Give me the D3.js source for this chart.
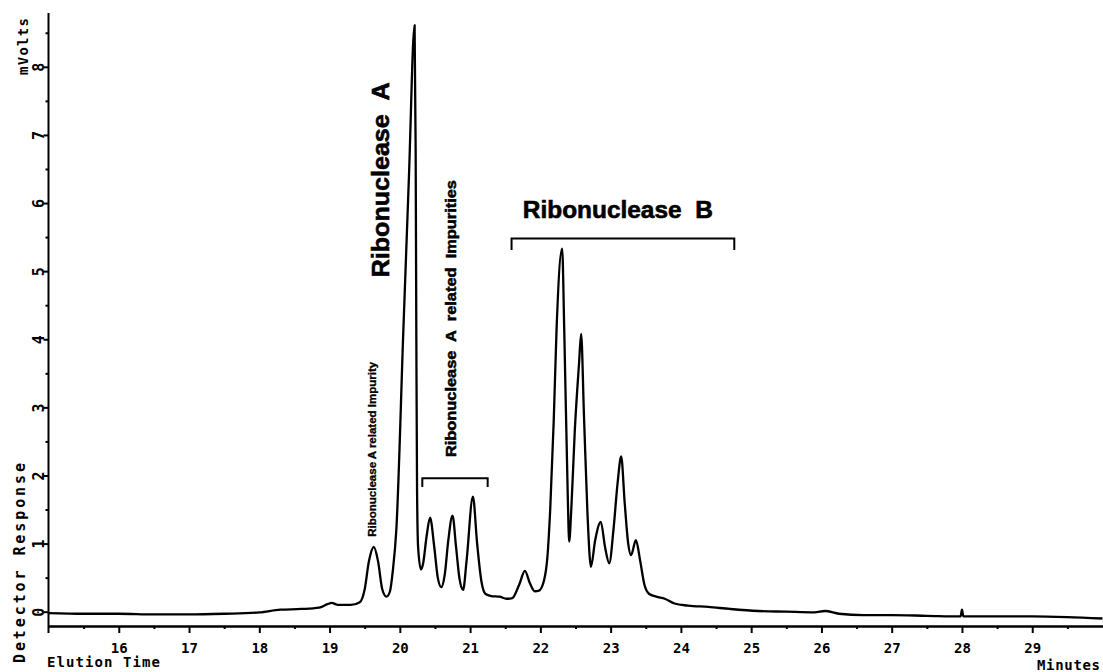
<!DOCTYPE html>
<html>
<head>
<meta charset="utf-8">
<script src="https://cdn.jsdelivr.net/npm/d3@7"></script>
<style>
  html, body { margin: 0; padding: 0; background: #fff; }
  svg { display: block; }
  .mono { font-family: "DejaVu Sans Mono", "Liberation Mono", monospace; font-weight: bold; fill: #000; }
  .ann { font-family: "Liberation Sans", Arial, Helvetica, sans-serif; font-weight: bold; fill: #000; stroke: #000; }
</style>
</head>
<body>
<svg id="chart" width="1103" height="672"></svg>
<script>
// ---- Data ----
const times = [15.00,15.50,16.00,16.50,17.00,17.50,18.00,18.30,18.60,18.85,18.97,19.03,19.12,19.30,19.43,
  19.50,19.56,19.63,19.69,19.75,19.81,19.86,19.90,19.95,20.05,20.13,20.21,20.225,20.235,20.245,20.26,
  20.30,20.33,20.38,20.43,20.49,20.54,20.59,20.64,20.69,20.75,20.80,20.85,20.90,20.95,21.04,21.10,21.16,
  21.22,21.30,21.42,21.52,21.60,21.70,21.78,21.85,21.92,21.98,22.05,22.10,22.14,22.19,22.23,22.31,22.34,
  22.39,22.41,22.44,22.49,22.55,22.58,22.62,22.67,22.72,22.78,22.86,22.92,22.98,23.04,23.10,23.15,23.20,
  23.25,23.29,23.36,23.42,23.48,23.55,23.65,23.77,23.91,24.10,24.39,24.70,25.10,25.50,25.90,26.05,26.25,
  26.60,27.00,27.50,27.98,28.00,28.02,28.50,29.00,29.50,30.00];
const mvolts = [-0.02,-0.03,-0.03,-0.04,-0.04,-0.03,-0.01,0.03,0.04,0.06,0.11,0.13,0.10,0.10,0.14,
  0.33,0.74,0.95,0.74,0.33,0.22,0.30,0.60,1.20,4.13,6.40,8.61,6.80,4.00,1.80,0.95,
  0.62,0.70,1.10,1.38,0.95,0.50,0.36,0.55,1.05,1.41,0.95,0.48,0.32,0.75,1.69,1.00,0.45,
  0.26,0.23,0.22,0.19,0.20,0.40,0.60,0.42,0.30,0.31,0.45,0.80,1.50,2.80,4.13,5.33,4.13,
  1.69,1.03,1.50,2.66,3.64,4.08,2.90,1.45,0.66,1.05,1.32,0.95,0.71,1.20,1.90,2.28,1.60,
  1.00,0.83,1.05,0.75,0.40,0.26,0.22,0.19,0.12,0.09,0.07,0.04,0.01,0.00,-0.01,0.01,-0.03,
  -0.05,-0.05,-0.06,-0.07,0.03,-0.07,-0.07,-0.07,-0.08,-0.10];

const xMajorTicks = [16,17,18,19,20,21,22,23,24,25,26,27,28,29];
const yMajorTicks = [0,1,2,3,4,5,6,7,8];

// annotations: label text, anchor time, anchor mV
const rotatedLabels = [
  {text: "Ribonuclease\u00A0\u00A0A", t: 19.85, v: 4.91, size: 24, len: 195, sw: 0.6},
  {text: "Ribonuclease A related Impurity", t: 19.66, v: 1.10, size: 10, len: 175, sw: 0.3},
  {text: "Ribonuclease\u00A0 A\u00A0 related\u00A0 Impurities", t: 20.80, v: 2.27, size: 14, len: 277, sw: 0.5}
];
const flatLabels = [
  {text: "Ribonuclease\u00A0\u00A0B", t: 21.75, v: 5.78, size: 24, len: 190, sw: 0.6}
];
// brackets: start time, end time, top mV, end-tick mV
const brackets = [
  {t0: 20.32, t1: 21.25, top: 1.96, low: 1.83},
  {t0: 21.59, t1: 24.76, top: 5.48, low: 5.31}
];

// ---- Layout ----
const W = 1103, H = 672;
const svg = d3.select("#chart");
svg.append("rect").attr("width", W).attr("height", H).attr("fill", "#fff");

const x = d3.scaleLinear().domain([15, 30]).range([48.5, 1102.5]);
const y = d3.scaleLinear().domain([-0.21, 8.79]).range([626, 13]);

const g = svg.append("g");

// X axis (minor + major)
const xMinor = d3.range(15.5, 30, 1);
g.append("g").attr("transform", `translate(0,${y(-0.21)})`)
  .call(d3.axisBottom(x).tickValues(xMinor).tickSize(3).tickSizeOuter(0).tickFormat(""))
  .call(s => s.select(".domain").attr("stroke-width", 2))
  .call(s => s.selectAll(".tick line").attr("stroke-width", 2));
const xAx = g.append("g").attr("transform", `translate(0,${y(-0.21)})`)
  .call(d3.axisBottom(x).tickValues(xMajorTicks).tickSize(7).tickSizeOuter(0).tickFormat(d3.format("d")))
  .call(s => s.select(".domain").attr("stroke-width", 2))
  .call(s => s.selectAll(".tick line").attr("stroke-width", 2));
xAx.selectAll(".tick text").attr("font-size", 14)
  .attr("y", 27).attr("dy", 0).attr("fill", "#000")
  .style("font-family", '"DejaVu Sans Mono", monospace').style("font-weight", "bold");

// Y axis (minor + major)
const yMinor = d3.range(0.5, 9, 1);
g.append("g").attr("transform", `translate(${x(15)},0)`)
  .call(d3.axisLeft(y).tickValues(yMinor).tickSize(3).tickSizeOuter(0).tickFormat(""))
  .call(s => s.select(".domain").remove())
  .call(s => s.selectAll(".tick line").attr("stroke-width", 2));
const yAx = g.append("g").attr("transform", `translate(${x(15)},0)`)
  .call(d3.axisLeft(y).tickValues(yMajorTicks).tickSize(5).tickSizeOuter(0).tickFormat(d3.format("d")))
  .call(s => s.select(".domain").remove())
  .call(s => s.selectAll(".tick line").attr("stroke-width", 2));
yAx.selectAll(".tick text")
  .attr("x", null).attr("dy", null).attr("fill", "#000")
  .attr("transform", "translate(-5,0) rotate(-90)")
  .attr("text-anchor", "middle")
  .attr("font-size", 15)
  .style("font-family", '"DejaVu Sans Mono", monospace').style("font-weight", "bold");
// Y axis spine extends below the x axis
g.append("line")
  .attr("x1", x(15)).attr("x2", x(15))
  .attr("y1", y.range()[1]).attr("y2", y(-0.21) + 7)
  .attr("stroke", "#000").attr("stroke-width", 2);

// Axis titles
g.append("text").attr("class", "mono").attr("font-size", 14)
  .attr("x", 47).attr("y", 667).attr("textLength", 113).attr("lengthAdjust", "spacing")
  .text("Elution Time");
g.append("text").attr("class", "mono").attr("font-size", 14)
  .attr("x", 1100).attr("y", 670).attr("text-anchor", "end")
  .attr("textLength", 63).attr("lengthAdjust", "spacing")
  .text("Minutes");
g.append("text").attr("class", "mono").attr("font-size", 15)
  .attr("transform", "translate(25,663) rotate(-90)")
  .attr("textLength", 200).attr("lengthAdjust", "spacing")
  .text("Detector Response");
g.append("text").attr("class", "mono").attr("font-size", 14)
  .attr("transform", "translate(28,75) rotate(-90)")
  .attr("textLength", 57).attr("lengthAdjust", "spacing")
  .text("mVolts");

// Trace
const line = d3.line()
  .x((d, i) => x(times[i]))
  .y((d, i) => y(mvolts[i]))
  .curve(d3.curveMonotoneX);
g.append("path")
  .attr("d", line(times))
  .attr("fill", "none")
  .attr("stroke", "#000")
  .attr("stroke-width", 2.3)
  .attr("stroke-linejoin", "round");

// Brackets
brackets.forEach(b => {
  g.append("path")
    .attr("d", `M${x(b.t0)},${y(b.low)}V${y(b.top)}H${x(b.t1)}V${y(b.low)}`)
    .attr("fill", "none").attr("stroke", "#000").attr("stroke-width", 2);
});

// Annotation labels
rotatedLabels.forEach(l => {
  g.append("text").attr("class", "ann")
    .attr("font-size", l.size).attr("stroke-width", l.sw)
    .attr("transform", `translate(${x(l.t)},${y(l.v)}) rotate(-90)`)
    .attr("textLength", l.len).attr("lengthAdjust", "spacingAndGlyphs")
    .text(l.text);
});
flatLabels.forEach(l => {
  g.append("text").attr("class", "ann")
    .attr("font-size", l.size).attr("stroke-width", l.sw)
    .attr("x", x(l.t)).attr("y", y(l.v))
    .attr("textLength", l.len).attr("lengthAdjust", "spacingAndGlyphs")
    .text(l.text);
});
</script>
</body>
</html>
